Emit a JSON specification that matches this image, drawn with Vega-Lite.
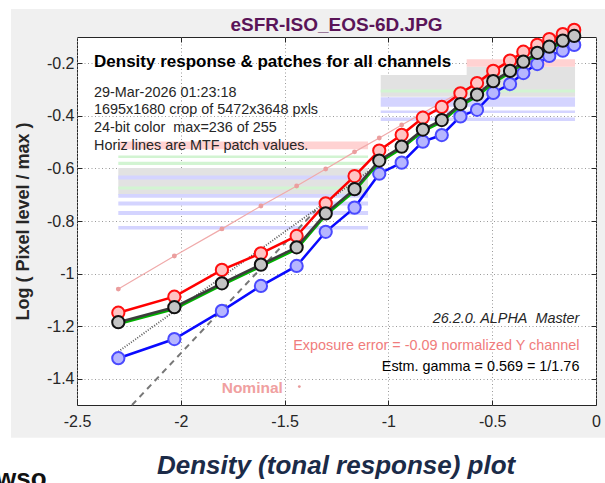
{
  "$schema": "https://vega.github.io/schema/vega-lite/v6.json",
  "width": 519,
  "height": 368,
  "autosize": {"type": "none"},
  "padding": {"left": 77, "top": 37, "right": 9, "bottom": 78},
  "background": "#f0f0f0",
  "config": {
    "font": "Liberation Sans",
    "view": {"fill": "white", "stroke": "#262626", "strokeWidth": 1}
  },
  "datasets": {
    "one": [{}],
    "patches": [
      {"ch": "Y", "x0": -2.301, "x1": -1.098, "lo": -0.701, "hi": -0.598},
      {"ch": "R", "x0": -2.301, "x1": -1.098, "lo": -0.527, "hi": -0.498},
      {"ch": "G", "x0": -2.301, "x1": -1.098, "lo": -0.560, "hi": -0.551},
      {"ch": "G", "x0": -2.301, "x1": -1.098, "lo": -0.587, "hi": -0.575},
      {"ch": "B", "x0": -2.301, "x1": -1.098, "lo": -0.642, "hi": -0.627},
      {"ch": "G", "x0": -2.301, "x1": -1.098, "lo": -0.680, "hi": -0.669},
      {"ch": "B", "x0": -2.301, "x1": -1.098, "lo": -0.712, "hi": -0.697},
      {"ch": "B", "x0": -2.301, "x1": -1.098, "lo": -0.741, "hi": -0.726},
      {"ch": "B", "x0": -2.301, "x1": -1.098, "lo": -0.777, "hi": -0.762},
      {"ch": "B", "x0": -2.301, "x1": -1.098, "lo": -0.832, "hi": -0.819},
      {"ch": "Y", "x0": -0.623, "x1": -0.101, "lo": -0.245, "hi": -0.213},
      {"ch": "Y", "x0": -1.037, "x1": -0.101, "lo": -0.327, "hi": -0.245},
      {"ch": "R", "x0": -0.623, "x1": -0.101, "lo": -0.213, "hi": -0.185},
      {"ch": "G", "x0": -1.037, "x1": -0.101, "lo": -0.311, "hi": -0.300},
      {"ch": "B", "x0": -1.037, "x1": -0.101, "lo": -0.365, "hi": -0.329},
      {"ch": "B", "x0": -1.037, "x1": -0.101, "lo": -0.389, "hi": -0.380},
      {"ch": "B", "x0": -1.037, "x1": -0.101, "lo": -0.420, "hi": -0.406}
    ],
    "resp": [
      {"ch": "R", "x": -2.301, "y": -1.149}, {"ch": "R", "x": -2.031, "y": -1.088},
      {"ch": "R", "x": -1.802, "y": -0.986}, {"ch": "R", "x": -1.614, "y": -0.923},
      {"ch": "R", "x": -1.442, "y": -0.857}, {"ch": "R", "x": -1.302, "y": -0.733},
      {"ch": "R", "x": -1.163, "y": -0.629}, {"ch": "R", "x": -1.044, "y": -0.532},
      {"ch": "R", "x": -0.936, "y": -0.472}, {"ch": "R", "x": -0.834, "y": -0.407},
      {"ch": "R", "x": -0.743, "y": -0.366}, {"ch": "R", "x": -0.653, "y": -0.314},
      {"ch": "R", "x": -0.573, "y": -0.275}, {"ch": "R", "x": -0.495, "y": -0.229},
      {"ch": "R", "x": -0.414, "y": -0.190}, {"ch": "R", "x": -0.350, "y": -0.156},
      {"ch": "R", "x": -0.283, "y": -0.130}, {"ch": "R", "x": -0.225, "y": -0.108},
      {"ch": "R", "x": -0.160, "y": -0.089}, {"ch": "R", "x": -0.105, "y": -0.073},
      {"ch": "G", "x": -2.301, "y": -1.192}, {"ch": "G", "x": -2.031, "y": -1.135},
      {"ch": "G", "x": -1.802, "y": -1.044}, {"ch": "G", "x": -1.614, "y": -0.973},
      {"ch": "G", "x": -1.442, "y": -0.907}, {"ch": "G", "x": -1.302, "y": -0.778},
      {"ch": "G", "x": -1.163, "y": -0.686}, {"ch": "G", "x": -1.044, "y": -0.577},
      {"ch": "G", "x": -0.936, "y": -0.524}, {"ch": "G", "x": -0.834, "y": -0.459},
      {"ch": "G", "x": -0.743, "y": -0.423}, {"ch": "G", "x": -0.653, "y": -0.362},
      {"ch": "G", "x": -0.573, "y": -0.326}, {"ch": "G", "x": -0.495, "y": -0.275},
      {"ch": "G", "x": -0.414, "y": -0.236}, {"ch": "G", "x": -0.350, "y": -0.201},
      {"ch": "G", "x": -0.283, "y": -0.167}, {"ch": "G", "x": -0.225, "y": -0.144},
      {"ch": "G", "x": -0.160, "y": -0.121}, {"ch": "G", "x": -0.105, "y": -0.103},
      {"ch": "B", "x": -2.301, "y": -1.322}, {"ch": "B", "x": -2.031, "y": -1.249},
      {"ch": "B", "x": -1.802, "y": -1.142}, {"ch": "B", "x": -1.614, "y": -1.047},
      {"ch": "B", "x": -1.442, "y": -0.971}, {"ch": "B", "x": -1.302, "y": -0.841},
      {"ch": "B", "x": -1.163, "y": -0.749}, {"ch": "B", "x": -1.044, "y": -0.620},
      {"ch": "B", "x": -0.936, "y": -0.578}, {"ch": "B", "x": -0.834, "y": -0.498},
      {"ch": "B", "x": -0.743, "y": -0.473}, {"ch": "B", "x": -0.653, "y": -0.402},
      {"ch": "B", "x": -0.573, "y": -0.377}, {"ch": "B", "x": -0.495, "y": -0.313},
      {"ch": "B", "x": -0.414, "y": -0.279}, {"ch": "B", "x": -0.350, "y": -0.237},
      {"ch": "B", "x": -0.283, "y": -0.203}, {"ch": "B", "x": -0.225, "y": -0.172},
      {"ch": "B", "x": -0.160, "y": -0.152}, {"ch": "B", "x": -0.105, "y": -0.130},
      {"ch": "Y", "x": -2.301, "y": -1.185}, {"ch": "Y", "x": -2.031, "y": -1.128},
      {"ch": "Y", "x": -1.802, "y": -1.037}, {"ch": "Y", "x": -1.614, "y": -0.966},
      {"ch": "Y", "x": -1.442, "y": -0.900}, {"ch": "Y", "x": -1.302, "y": -0.771},
      {"ch": "Y", "x": -1.163, "y": -0.679}, {"ch": "Y", "x": -1.044, "y": -0.570},
      {"ch": "Y", "x": -0.936, "y": -0.517}, {"ch": "Y", "x": -0.834, "y": -0.452},
      {"ch": "Y", "x": -0.743, "y": -0.416}, {"ch": "Y", "x": -0.653, "y": -0.355},
      {"ch": "Y", "x": -0.573, "y": -0.319}, {"ch": "Y", "x": -0.495, "y": -0.268},
      {"ch": "Y", "x": -0.414, "y": -0.229}, {"ch": "Y", "x": -0.350, "y": -0.194},
      {"ch": "Y", "x": -0.283, "y": -0.160}, {"ch": "Y", "x": -0.225, "y": -0.137},
      {"ch": "Y", "x": -0.160, "y": -0.114}, {"ch": "Y", "x": -0.105, "y": -0.096}
    ],
    "nominal": [
      {"x": -2.301, "y": -1.059}, {"x": -2.031, "y": -0.933}, {"x": -1.802, "y": -0.830},
      {"x": -1.614, "y": -0.743}, {"x": -1.442, "y": -0.667}, {"x": -1.302, "y": -0.602},
      {"x": -1.163, "y": -0.537}, {"x": -1.044, "y": -0.484}, {"x": -0.936, "y": -0.435},
      {"x": -0.834, "y": -0.389}, {"x": -0.743, "y": -0.349}, {"x": -0.653, "y": -0.309},
      {"x": -0.573, "y": -0.275}, {"x": -0.495, "y": -0.241}
    ],
    "fit": [
      {"x": -2.301, "y": -1.297}, {"x": -0.45, "y": -0.244}
    ],
    "ref": [
      {"x": -2.235, "y": -1.5}, {"x": -1.35, "y": -0.759}
    ]
  },
  "resolve": {"axis": {"x": "independent", "y": "independent"}},
  "layer": [
    {
      "data": {"name": "one"},
      "mark": {"type": "rect", "color": "white"},
      "encoding": {
        "x": {"datum": -3.0, "axis": null}, "x2": {"datum": 0.2},
        "y": {"datum": -1.625, "axis": null}, "y2": {"datum": -1.95}
      }
    },
    {
      "data": {"name": "one"},
      "mark": {"type": "rect", "color": "white"},
      "encoding": {
        "x": {"datum": -3.0, "axis": null}, "x2": {"datum": -2.818},
        "y": {"datum": 0.2, "axis": null}, "y2": {"datum": -1.95}
      }
    },
    {
      "data": {"name": "one"},
      "mark": {"type": "rect", "color": "white"},
      "encoding": {
        "x": {"datum": -3.0, "axis": null}, "x2": {"datum": 0.2},
        "y": {"datum": 0.2, "axis": null}, "y2": {"datum": 0.0065}
      }
    },
    {
      "data": {"name": "patches"},
      "mark": {"type": "rect"},
      "encoding": {
        "x": {
          "field": "x0", "type": "quantitative",
          "scale": {"domain": [-2.5, 0], "nice": false, "zero": false},
          "axis": {
            "orient": "bottom", "title": null,
            "values": [-2.5, -2, -1.5, -1, -0.5, 0],
            "labelExpr": "'' + datum.value",
            "labelFlush": false, "labelOverlap": false,
            "labelFontSize": 16, "labelColor": "#262626", "labelPadding": 13,
            "domain": false, "tickSize": -5, "tickColor": "#262626",
            "grid": true, "gridDash": [1, 2.5], "gridColor": "#9a9a9a"
          }
        },
        "x2": {"field": "x1"},
        "y": {
          "field": "lo", "type": "quantitative",
          "scale": {"domain": [-1.5, -0.1], "nice": false, "zero": false},
          "axis": {
            "orient": "left",
            "values": [-1.4, -1.2, -1, -0.8, -0.6, -0.4, -0.2],
            "labelExpr": "'' + datum.value",
            "labelFlush": false, "labelOverlap": false,
            "labelFontSize": 16, "labelColor": "#262626", "labelPadding": 8,
            "domain": false, "tickSize": -5, "tickColor": "#262626",
            "grid": true, "gridDash": [1, 2.5], "gridColor": "#9a9a9a",
            "title": "Log ( Pixel level / max )",
            "titleFont": "Liberation Sans", "titleFontSize": 18,
            "titleFontWeight": "bold", "titleColor": "#262626", "titlePadding": 14
          }
        },
        "y2": {"field": "hi"},
        "color": {
          "field": "ch", "type": "nominal", "legend": null,
          "scale": {"domain": ["Y", "R", "G", "B"], "range": ["#e2e2e2", "#ffd2d2", "#d2f4d2", "#d4d4ff"]}
        }
      }
    },
    {
      "data": {"name": "nominal"},
      "mark": {"type": "line", "color": "#f0aaaa", "strokeWidth": 1.2,
               "point": {"filled": true, "color": "#eb9e9e", "size": 24}},
      "encoding": {
        "x": {"field": "x", "type": "quantitative",
              "axis": {"orient": "top", "title": null, "labels": false, "domain": false,
                       "values": [-2, -1.5, -1, -0.5], "tickSize": -5, "tickColor": "#262626", "grid": false}},
        "y": {"field": "y", "type": "quantitative",
              "axis": {"orient": "right", "title": null, "labels": false, "domain": false,
                       "values": [-1.4, -1.2, -1, -0.8, -0.6, -0.4, -0.2], "tickSize": -5, "tickColor": "#262626", "grid": false}}
      }
    },
    {
      "data": {"name": "ref"},
      "mark": {"type": "line", "color": "#777777", "strokeWidth": 2, "strokeDash": [6, 5]},
      "encoding": {
        "x": {"field": "x", "type": "quantitative", "axis": null},
        "y": {"field": "y", "type": "quantitative", "axis": null}
      }
    },
    {
      "data": {"name": "fit"},
      "mark": {"type": "line", "color": "#5a5a5a", "strokeWidth": 1.8, "strokeDash": [1, 1.6]},
      "encoding": {
        "x": {"field": "x", "type": "quantitative", "axis": null},
        "y": {"field": "y", "type": "quantitative", "axis": null}
      }
    },
    {
      "data": {"name": "resp"},
      "transform": [{"filter": "datum.ch == 'B'"}],
      "mark": {"type": "line", "color": "#0a0aff", "strokeWidth": 2.5},
      "encoding": {
        "x": {"field": "x", "type": "quantitative", "axis": null},
        "y": {"field": "y", "type": "quantitative", "axis": null}
      }
    },
    {
      "data": {"name": "resp"},
      "transform": [{"filter": "datum.ch == 'B'"}],
      "mark": {"type": "point", "shape": "circle", "filled": false, "size": 150,
               "stroke": "#4a4aff", "strokeWidth": 2, "fill": "#b6b6ff", "fillOpacity": 1, "opacity": 1},
      "encoding": {
        "x": {"field": "x", "type": "quantitative", "axis": null},
        "y": {"field": "y", "type": "quantitative", "axis": null}
      }
    },
    {
      "data": {"name": "resp"},
      "transform": [{"filter": "datum.ch == 'R'"}],
      "mark": {"type": "line", "color": "#ff0000", "strokeWidth": 2.5},
      "encoding": {
        "x": {"field": "x", "type": "quantitative", "axis": null},
        "y": {"field": "y", "type": "quantitative", "axis": null}
      }
    },
    {
      "data": {"name": "resp"},
      "transform": [{"filter": "datum.ch == 'R'"}],
      "mark": {"type": "point", "shape": "circle", "filled": false, "size": 150,
               "stroke": "#ff1010", "strokeWidth": 2, "fill": "#ffc4c4", "fillOpacity": 1, "opacity": 1},
      "encoding": {
        "x": {"field": "x", "type": "quantitative", "axis": null},
        "y": {"field": "y", "type": "quantitative", "axis": null}
      }
    },
    {
      "data": {"name": "resp"},
      "transform": [{"filter": "datum.ch == 'G'"}],
      "mark": {"type": "line", "color": "#00b000", "strokeWidth": 2.5},
      "encoding": {
        "x": {"field": "x", "type": "quantitative", "axis": null},
        "y": {"field": "y", "type": "quantitative", "axis": null}
      }
    },
    {
      "data": {"name": "resp"},
      "transform": [{"filter": "datum.ch == 'Y'"}],
      "mark": {"type": "line", "color": "#3c3c3c", "strokeWidth": 2.5},
      "encoding": {
        "x": {"field": "x", "type": "quantitative", "axis": null},
        "y": {"field": "y", "type": "quantitative", "axis": null}
      }
    },
    {
      "data": {"name": "resp"},
      "transform": [{"filter": "datum.ch == 'Y'"}],
      "mark": {"type": "point", "shape": "circle", "filled": false, "size": 150,
               "stroke": "#111111", "strokeWidth": 2, "fill": "#c4c4c4", "fillOpacity": 1, "opacity": 1},
      "encoding": {
        "x": {"field": "x", "type": "quantitative", "axis": null},
        "y": {"field": "y", "type": "quantitative", "axis": null}
      }
    },
    {
      "data": {"name": "one"},
      "mark": {"type": "text", "text": "eSFR-ISO_EOS-6D.JPG",
               "align": "center", "baseline": "alphabetic", "fontSize": 19, "fontWeight": "bold", "color": "#5a1458"},
      "encoding": {"x": {"datum": -1.25, "axis": null}, "y": {"datum": -0.077, "axis": null}}
    },
    {
      "data": {"name": "one"},
      "mark": {"type": "text", "text": "Density response & patches for all channels",
               "align": "left", "baseline": "alphabetic", "fontSize": 17, "fontWeight": "bold", "color": "#000000"},
      "encoding": {"x": {"datum": -2.418, "axis": null}, "y": {"datum": -0.213, "axis": null}}
    },
    {
      "data": {"name": "one"},
      "mark": {"type": "text",
               "text": ["29-Mar-2026 01:23:18", "1695x1680 crop of 5472x3648 pxls", "24-bit color\u00a0 max=236 of 255", "Horiz lines are MTF patch values."],
               "lineHeight": 17.7, "align": "left", "baseline": "alphabetic", "fontSize": 14.4, "color": "#262626"},
      "encoding": {"x": {"datum": -2.418, "axis": null}, "y": {"datum": -0.327, "axis": null}}
    },
    {
      "data": {"name": "one"},
      "mark": {"type": "text", "text": "26.2.0. ALPHA\u00a0 Master",
               "align": "right", "baseline": "alphabetic", "fontSize": 14.4, "fontStyle": "italic", "color": "#262626"},
      "encoding": {"x": {"datum": -0.080, "axis": null}, "y": {"datum": -1.188, "axis": null}}
    },
    {
      "data": {"name": "one"},
      "mark": {"type": "text", "text": "Exposure error = -0.09 normalized Y channel",
               "align": "right", "baseline": "alphabetic", "fontSize": 14.4, "color": "#f07c7c"},
      "encoding": {"x": {"datum": -0.080, "axis": null}, "y": {"datum": -1.289, "axis": null}}
    },
    {
      "data": {"name": "one"},
      "mark": {"type": "text", "text": "Estm. gamma = 0.569 = 1/1.76",
               "align": "right", "baseline": "alphabetic", "fontSize": 14.4, "color": "#000000"},
      "encoding": {"x": {"datum": -0.080, "axis": null}, "y": {"datum": -1.372, "axis": null}}
    },
    {
      "data": {"name": "one"},
      "mark": {"type": "text", "text": "Nominal",
               "align": "left", "baseline": "alphabetic", "fontSize": 15.5, "fontWeight": "bold", "color": "#f0a0a0"},
      "encoding": {"x": {"datum": -1.803, "axis": null}, "y": {"datum": -1.455, "axis": null}}
    },
    {
      "data": {"name": "one"},
      "mark": {"type": "point", "shape": "circle", "filled": true, "size": 8, "color": "#e89a9a", "opacity": 1},
      "encoding": {"x": {"datum": -1.429, "axis": null}, "y": {"datum": -1.430, "axis": null}}
    },
    {
      "data": {"name": "one"},
      "mark": {"type": "text", "text": "Density (tonal response) plot",
               "align": "center", "baseline": "alphabetic", "fontSize": 26, "fontWeight": "bold", "fontStyle": "italic", "color": "#1b2b48"},
      "encoding": {"x": {"datum": -1.252, "axis": null}, "y": {"datum": -1.762, "axis": null}}
    },
    {
      "data": {"name": "one"},
      "mark": {"type": "text", "text": "wso",
               "align": "left", "baseline": "alphabetic", "fontSize": 26, "fontWeight": "bold", "color": "#111111"},
      "encoding": {"x": {"datum": -2.890, "axis": null}, "y": {"datum": -1.812, "axis": null}}
    }
  ]
}
